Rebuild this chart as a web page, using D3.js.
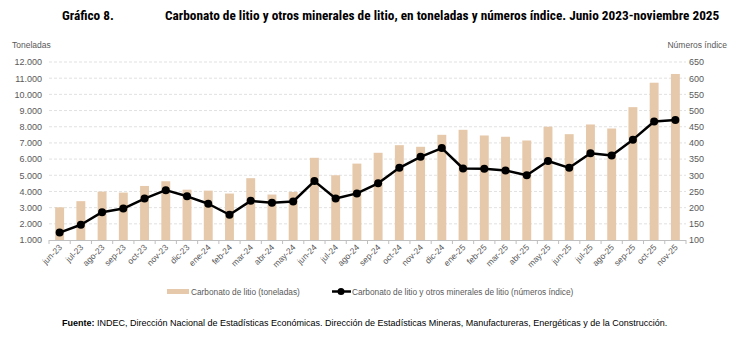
<!DOCTYPE html>
<html>
<head>
<meta charset="utf-8">
<script src="https://cdn.jsdelivr.net/npm/d3@7"></script>
<style>
  body { margin: 0; background: #fff; }
  svg { display: block; font-family: "Liberation Sans", Arial, sans-serif; }
</style>
</head>
<body>
<svg id="chart" width="730" height="338"></svg>
<script>
var meses = ["jun-23","jul-23","ago-23","sep-23","oct-23","nov-23","dic-23",
  "ene-24","feb-24","mar-24","abr-24","may-24","jun-24","jul-24","ago-24","sep-24","oct-24","nov-24","dic-24",
  "ene-25","feb-25","mar-25","abr-25","may-25","jun-25","jul-25","ago-25","sep-25","oct-25","nov-25"];

// carbonato de litio, toneladas
var toneladas = [3020, 3400, 3990, 3930, 4340, 4630, 4110,
  4050, 3870, 4820, 3810, 3970, 6080, 5000, 5720, 6390, 6860, 6760, 7500,
  7810, 7460, 7380, 7150, 8000, 7540, 8140, 7890, 9210, 10720, 11260];

// carbonato de litio y otros minerales de litio, numeros indice
var indice = [123, 147, 186, 197, 228, 254, 235,
  212, 178, 221, 215, 219, 282, 228, 244, 275, 323, 357, 384,
  321, 320, 315, 300, 344, 323, 368, 361, 410, 466, 471];

var ticksIzq = d3.range(1000, 12001, 1000);
var ticksDer = d3.range(100, 651, 50);

var svg = d3.select("#chart"),
  width = +svg.attr("width"),
  height = +svg.attr("height");

var gris = "#595959";
var xIni = 49, xFin = 686, yTop = 62, yBase = 240;

var x = d3.scaleBand().domain(meses).range([xIni, xFin]).paddingInner(0.58).paddingOuter(0.29);
var yL = d3.scaleLinear().domain([1000, 12000]).range([yBase, yTop]);
var yR = d3.scaleLinear().domain([100, 650]).range([yBase, yTop]);

// titulo
var cond = '"Liberation Sans Narrow", "Roboto Condensed", "DejaVu Sans Condensed", sans-serif';
svg.append("text").attr("x", 62).attr("y", 20)
  .style("font-family", cond).style("font-weight", "bold").style("font-size", "13.3px")
  .text("Gráfico 8.");
svg.append("text").attr("x", 165).attr("y", 20)
  .style("font-family", cond).style("font-weight", "bold").style("font-size", "13.3px")
  .text("Carbonato de litio y otros minerales de litio, en toneladas y números índice. Junio 2023-noviembre 2025");

// titulos de ejes
svg.append("text").attr("x", 12).attr("y", 48).attr("fill", gris)
  .style("font-size", "8.5px").text("Toneladas");
svg.append("text").attr("x", 727).attr("y", 48).attr("fill", gris)
  .attr("text-anchor", "end").style("font-size", "8.5px").text("Números índice");

// grilla
svg.append("g").selectAll("line").data(ticksIzq.slice(1)).enter().append("line")
  .attr("x1", xIni).attr("x2", xFin)
  .attr("y1", d => yL(d)).attr("y2", d => yL(d))
  .attr("stroke", "#d9d9d9").attr("stroke-width", 0.8).attr("stroke-dasharray", "3,2");

// eje izquierdo
var axL = svg.append("g").attr("transform", "translate(" + (xIni - 5) + ",0)")
  .call(d3.axisLeft(yL).tickValues(ticksIzq).tickSize(0).tickPadding(2)
    .tickFormat(d => d3.format(",")(d).replace(",", ".")));
axL.select(".domain").remove();
axL.selectAll("text").attr("fill", gris).style("font-size", "9px").style("font-family", "Liberation Sans, Arial, sans-serif");

// eje derecho
var axR = svg.append("g").attr("transform", "translate(" + (xFin + 1) + ",0)")
  .call(d3.axisRight(yR).tickValues(ticksDer).tickSize(0).tickPadding(2));
axR.select(".domain").remove();
axR.selectAll("text").attr("fill", gris).style("font-size", "9px").style("font-family", "Liberation Sans, Arial, sans-serif");

// barras
svg.append("g").selectAll("rect").data(toneladas).enter().append("rect")
  .attr("x", (d, i) => x(meses[i]))
  .attr("width", x.bandwidth())
  .attr("y", d => yL(d))
  .attr("height", d => yBase - yL(d))
  .attr("fill", "#e6c9ab");

// eje inferior con marcas entre categorias
svg.append("line").attr("x1", xIni).attr("x2", xFin).attr("y1", yBase + 0.5).attr("y2", yBase + 0.5)
  .attr("stroke", "#bfbfbf").attr("stroke-width", 1);
var step = x.step();
svg.append("g").selectAll("line").data(d3.range(meses.length + 1)).enter().append("line")
  .attr("x1", i => xIni + i * step).attr("x2", i => xIni + i * step)
  .attr("y1", yBase).attr("y2", yBase + 4)
  .attr("stroke", "#bfbfbf").attr("stroke-width", 1);

svg.append("g").selectAll("text").data(meses).enter().append("text")
  .attr("transform", d => "translate(" + (x(d) + x.bandwidth() / 2 + 3) + "," + (yBase + 8) + ")rotate(-45)")
  .attr("text-anchor", "end").attr("fill", gris)
  .style("font-size", "8.5px").text(d => d);

// linea de indice
var cx = (d, i) => x(meses[i]) + x.bandwidth() / 2;
var linea = d3.line().x(cx).y(d => yR(d));
svg.append("path").datum(indice).attr("d", linea)
  .attr("fill", "none").attr("stroke", "#000").attr("stroke-width", 2.5).attr("stroke-linejoin", "round");
svg.append("g").selectAll("circle").data(indice).enter().append("circle")
  .attr("cx", cx).attr("cy", d => yR(d)).attr("r", 4).attr("fill", "#000");

// leyenda
var ley = svg.append("g").style("font-size", "8.3px");
ley.append("rect").attr("x", 167).attr("y", 289).attr("width", 22).attr("height", 5).attr("fill", "#e6c9ab");
ley.append("text").attr("x", 191).attr("y", 295).attr("fill", gris).text("Carbonato de litio (toneladas)");
ley.append("line").attr("x1", 332).attr("x2", 351).attr("y1", 291.5).attr("y2", 291.5)
  .attr("stroke", "#000").attr("stroke-width", 2.5);
ley.append("circle").attr("cx", 341).attr("cy", 291.5).attr("r", 3.5).attr("fill", "#000");
ley.append("text").attr("x", 352).attr("y", 295).attr("fill", gris)
  .text("Carbonato de litio y otros minerales de litio (números índice)");

// fuente
var fuente = svg.append("text").attr("x", 62).attr("y", 326).style("font-size", "9px").attr("fill", "#000");
fuente.append("tspan").style("font-weight", "bold").text("Fuente: ");
fuente.append("tspan").text("INDEC, Dirección Nacional de Estadísticas Económicas. Dirección de Estadísticas Mineras, Manufactureras, Energéticas y de la Construcción.");
</script>
</body>
</html>
